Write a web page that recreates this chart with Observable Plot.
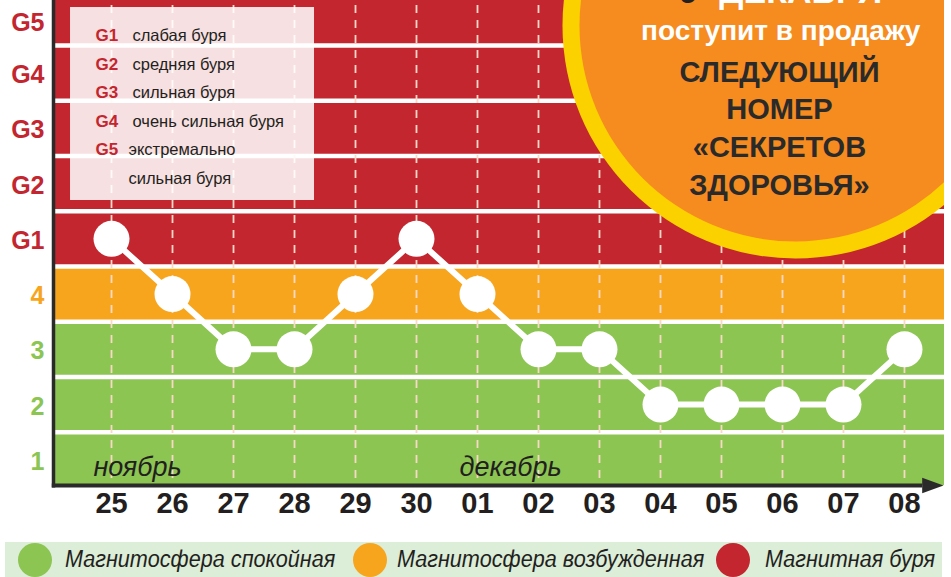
<!DOCTYPE html>
<html><head><meta charset="utf-8">
<script src="https://cdn.jsdelivr.net/npm/d3@7"></script>
<script src="https://cdn.jsdelivr.net/npm/@observablehq/plot@0.6"></script>
<style>
body{margin:0;background:#fff;width:951px;height:577px;overflow:hidden;font-family:'Liberation Sans',Arial,sans-serif;}
#chart svg{display:block}
#legend{position:relative;margin-left:5px;margin-top:4px;width:937px;height:35px;background:#dcedd8;}
.sw{position:absolute;top:1px;width:34px;height:34px;border-radius:50%}
.lab{position:absolute;top:0;line-height:35px;font-style:italic;font-size:23px;color:#231f20;white-space:nowrap;
 font-family:'Liberation Sans',Arial,sans-serif;transform:scaleX(0.94);transform-origin:0 50%;}
</style></head><body><div id="chart"></div><div id="legend"></div>
<script>
// ---- data ----
const dates = ["25","26","27","28","29","30","01","02","03","04","05","06","07","08"];
const levels = ["1","2","3","4","G1","G2","G3","G4","G5"];
const levelState = ["calm","calm","calm","excited","storm","storm","storm","storm","storm"];
const kp = ["G1","4","3","3","4","G1","4","3","3","2","2","2","2","3"];
const months = ["ноябрь","декабрь"];
const monthStarts = ["25","01"];
const scaleCodes = ["G1","G2","G3","G4","G5"];
const scaleNames = ["слабая буря","средняя буря","сильная буря","очень сильная буря","экстремально"];
const scaleNameExtra = "сильная буря";
const legendNames = ["Магнитосфера спокойная","Магнитосфера возбужденная","Магнитная буря"];
const legendStates = ["calm","excited","storm"];
const promoDate = ["9","ДЕКАБРЯ"];
const promoSub = "поступит в продажу";
const promoTitle = ["СЛЕДУЮЩИЙ","НОМЕР","«СЕКРЕТОВ","ЗДОРОВЬЯ»"];

// ---- styles ----
const COL = {calm:"#8cc552", excited:"#f8a51e", storm:"#c3262f"};
const DARK = "#231f20";
const SANS = "'Liberation Sans', Arial, sans-serif";
const lvl = s => levels.indexOf(s) + 1;
const X0 = -0.951, X1 = 13.656, Y0 = 0.535, Y1 = 9.315;
const py = p => (514.56 - p) / 55.24;   // pixel row -> level units (annotations only)

const bands = levels.map((l,i)=>({v:i+1, color: COL[levelState[i]]}));
const series = dates.map((d,i)=>({i, v: lvl(kp[i])}));
const monthData = months.map((m,k)=>({m, i: dates.indexOf(monthStarts[k])}));
const one = [0];

const plot = Plot.plot({
  width: 951, height: 538,
  marginLeft: 53, marginRight: 7, marginTop: 0, marginBottom: 53,
  x: {type:"linear", domain:[X0, X1], axis:null},
  y: {type:"linear", domain:[Y0, Y1], axis:null},
  color: {type:"identity"},
  style: {background:"transparent", overflow:"visible"},
  marks: [
    Plot.rect(bands, {x1: ()=>X0, x2: ()=>X1, y1: d=>d.v-0.5, y2: d=>d.v+0.5, fill: d=>d.color, clip: true}),
    Plot.ruleY(d3.range(1.5, 9, 1), {stroke:"white", strokeWidth:4.5}),
    Plot.ruleX(dates, {x:(d,i)=>i, y1: ()=>0.662, y2: ()=>Y1, stroke:"#f8d9c8", strokeWidth:1.8, strokeDasharray:"8,7"}),
    // promo badge
    Plot.dot(one, {x: ()=>11.213, y: ()=>8.862, r: 233, fill:"#fcd100", clip:true}),
    Plot.dot(one, {x: ()=>11.213, y: ()=>8.862, r: 216, fill:"#f68b20", clip:true}),
    Plot.text([promoDate[0]], {x: ()=>9.46, y: ()=>9.47, text: d=>d, fill: DARK, fontSize:34, fontWeight:"bold", fontFamily:SANS}),
    Plot.text([promoDate[1]], {x: ()=>11.3, y: ()=>9.47, text: d=>d, fill: "white", fontSize:34, fontWeight:"bold", fontFamily:SANS}),
    Plot.text([promoSub], {x: ()=>10.97, y: ()=>py(31), text: d=>d, fill:"white", fontSize:28, fontWeight:"bold", fontFamily:SANS}),
    Plot.text(promoTitle, {x: ()=>10.95, y: (d,i)=>py(72 + i*37.7), text: d=>d, fill:"#2a2a2a", fontSize:29, fontWeight:"bold", fontFamily:SANS}),
    // scale legend box
    Plot.rect(one, {x1: ()=>-0.672, x2: ()=>3.328, y1: ()=>py(200), y2: ()=>py(7), fill:"white", fillOpacity:0.86}),
    Plot.text(scaleCodes, {x: ()=>-0.262, y: (d,i)=>py(35.5+28.5*i), text:d=>d, textAnchor:"start", fill: COL.storm, fontSize:17, fontWeight:"bold", fontFamily:SANS}),
    Plot.text(scaleNames, {x: (d,i)=> i<4 ? 0.344 : 0.279, y: (d,i)=>py(35.5+28.5*i), text:d=>d, textAnchor:"start", fill: DARK, fontSize:16.5, fontFamily:SANS}),
    Plot.text([scaleNameExtra], {x: ()=>0.279, y: ()=>py(178), text:d=>d, textAnchor:"start", fill: DARK, fontSize:16.5, fontFamily:SANS}),
    // series
    Plot.line(series, {x:"i", y:"v", stroke:"white", strokeWidth:6}),
    Plot.dot(series, {x:"i", y:"v", r:18, fill:"white"}),
    // months
    Plot.text(monthData, {x:"i", y: ()=>1, dx:-18, dy:8, text:"m", textAnchor:"start", fill: DARK, fontSize:27, fontStyle:"italic", fontFamily:SANS}),
    // axes
    Plot.ruleX([X0], {y1: ()=>0.49, y2: ()=>Y1, stroke: "#2b2a2a", strokeWidth:3.5}),
    Plot.ruleY([Y0], {x1: ()=>X0 - 0.02, x2: ()=>13.3, stroke: "#2b2a2a", strokeWidth:4}),
    Plot.line([[13.29, Y0+0.14],[13.64, Y0],[13.29, Y0-0.14]], {x: d=>d[0], y: d=>d[1], fill:"#2b2a2a", stroke:"none"}),
    Plot.text(levels, {y:(d,i)=> i+1 - (i===8 ? 0.06 : 0), text:d=>d, frameAnchor:"left", dx:-9, dy:2, textAnchor:"end", fill:(d,i)=>COL[levelState[i]], fontSize:25, fontWeight:"bold", fontFamily:SANS}),
    Plot.text(dates, {x:(d,i)=>i, text:d=>d, frameAnchor:"bottom", dy:27, fill: DARK, fontSize:29, fontWeight:"bold", fontFamily:SANS})
  ]
});
document.getElementById("chart").appendChild(plot);

// bottom legend
const leg = document.getElementById("legend");
const swLeft = [13, 348, 711], labLeft = [60, 392, 760];
legendNames.forEach((n,k)=>{
  const s = document.createElement("div"); s.className="sw"; s.style.left=swLeft[k]+"px"; s.style.background=COL[legendStates[k]]; leg.appendChild(s);
  const t = document.createElement("div"); t.className="lab"; t.style.left=labLeft[k]+"px"; t.textContent=n; leg.appendChild(t);
});
</script></body></html>
